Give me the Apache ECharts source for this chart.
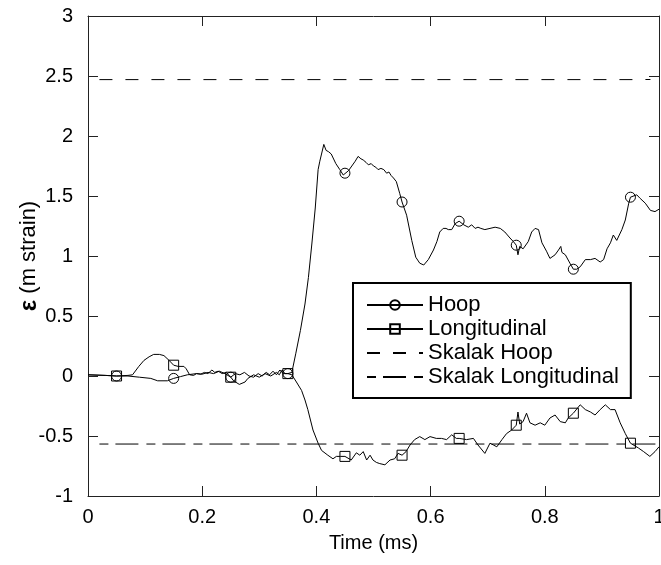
<!DOCTYPE html>
<html>
<head>
<meta charset="utf-8">
<script src="https://cdn.jsdelivr.net/npm/echarts@6/dist/echarts.min.js"></script>
<style>
html,body{margin:0;padding:0;background:#fff;}
#chart{width:661px;height:565px;}
</style>
</head>
<body>
<div id="chart"></div>
<script>
// ---- Data ----
var markerTimes = [0.05, 0.15, 0.25, 0.35, 0.45, 0.55, 0.65, 0.75, 0.85, 0.95];

var hoopTime = [0.00,0.03,0.05,0.07,0.09,0.11,0.122,0.139,0.15,0.162,0.174,0.19,0.20,0.21,0.22,0.23,0.24,0.25,0.255,0.265,0.275,0.28,0.29,0.30,0.31,0.32,0.33,0.335,0.34,0.345,0.35,0.357,0.364,0.372,0.38,0.386,0.392,0.398,0.403,0.406,0.413,0.417,0.421,0.426,0.434,0.441,0.447,0.45,0.456,0.462,0.468,0.473,0.478,0.482,0.487,0.491,0.496,0.50,0.504,0.508,0.513,0.518,0.523,0.527,0.531,0.535,0.540,0.546,0.55,0.558,0.567,0.574,0.581,0.588,0.596,0.605,0.611,0.616,0.622,0.627,0.631,0.637,0.643,0.65,0.658,0.666,0.672,0.678,0.683,0.688,0.695,0.704,0.713,0.722,0.730,0.739,0.745,0.75,0.753,0.756,0.762,0.771,0.777,0.783,0.789,0.795,0.803,0.809,0.818,0.824,0.828,0.830,0.836,0.844,0.85,0.856,0.862,0.871,0.880,0.888,0.897,0.903,0.909,0.915,0.920,0.926,0.935,0.941,0.947,0.95,0.961,0.967,0.976,0.985,0.993,1.0];
var hoopStrain = [0.01,0.005,0.0,0.0,-0.01,-0.02,-0.04,-0.04,-0.02,-0.005,0.01,0.02,0.015,0.03,0.02,0.04,0.02,-0.01,-0.04,-0.07,-0.05,-0.02,0.01,-0.01,0.02,0.0,0.03,0.01,0.05,0.02,0.02,0.03,0.19,0.38,0.6,0.82,1.1,1.4,1.72,1.79,1.93,1.88,1.87,1.85,1.77,1.72,1.675,1.69,1.71,1.75,1.79,1.83,1.81,1.80,1.78,1.76,1.77,1.75,1.74,1.72,1.73,1.72,1.69,1.70,1.67,1.65,1.62,1.52,1.45,1.34,1.13,0.99,0.94,0.925,0.97,1.05,1.12,1.20,1.23,1.23,1.22,1.22,1.27,1.29,1.26,1.24,1.26,1.23,1.24,1.23,1.22,1.23,1.24,1.23,1.20,1.15,1.12,1.09,1.01,1.08,1.06,1.12,1.20,1.23,1.22,1.11,1.04,0.98,1.01,1.05,1.08,1.03,1.01,0.94,0.89,0.89,0.91,0.97,0.97,0.98,0.95,0.97,1.06,1.11,1.175,1.13,1.22,1.30,1.44,1.49,1.51,1.48,1.44,1.38,1.37,1.39];

var longTime = [0.00,0.03,0.05,0.07,0.078,0.089,0.098,0.107,0.115,0.125,0.133,0.142,0.15,0.158,0.168,0.172,0.178,0.185,0.19,0.197,0.204,0.21,0.217,0.222,0.228,0.235,0.242,0.25,0.258,0.266,0.274,0.282,0.29,0.298,0.305,0.312,0.318,0.324,0.33,0.336,0.342,0.35,0.357,0.365,0.374,0.38,0.385,0.394,0.403,0.409,0.42,0.429,0.435,0.442,0.45,0.461,0.470,0.476,0.482,0.488,0.494,0.499,0.505,0.511,0.52,0.529,0.537,0.543,0.55,0.557,0.564,0.572,0.581,0.59,0.599,0.61,0.619,0.628,0.637,0.645,0.65,0.663,0.675,0.683,0.686,0.695,0.704,0.71,0.716,0.725,0.733,0.742,0.75,0.753,0.756,0.762,0.768,0.774,0.783,0.792,0.8,0.809,0.818,0.827,0.836,0.841,0.85,0.862,0.871,0.88,0.888,0.897,0.906,0.915,0.923,0.932,0.941,0.95,0.964,0.973,0.984,0.993,1.0];
var longStrain = [0.01,0.005,0.0,0.005,0.01,0.08,0.13,0.16,0.18,0.18,0.17,0.13,0.09,0.08,0.08,0.06,0.01,0.005,0.02,0.015,0.03,0.02,0.05,0.03,0.04,0.02,0.03,-0.01,0.02,0.01,0.03,0.0,-0.01,0.02,0.0,0.03,0.01,0.04,0.01,0.05,0.02,0.02,0.01,-0.05,-0.12,-0.2,-0.28,-0.45,-0.56,-0.62,-0.66,-0.69,-0.67,-0.67,-0.67,-0.70,-0.64,-0.66,-0.63,-0.70,-0.66,-0.70,-0.72,-0.73,-0.74,-0.70,-0.69,-0.645,-0.66,-0.63,-0.575,-0.53,-0.505,-0.53,-0.505,-0.52,-0.52,-0.53,-0.49,-0.52,-0.52,-0.53,-0.52,-0.575,-0.59,-0.645,-0.56,-0.575,-0.59,-0.53,-0.48,-0.45,-0.41,-0.30,-0.40,-0.38,-0.31,-0.39,-0.41,-0.39,-0.41,-0.35,-0.325,-0.38,-0.39,-0.35,-0.31,-0.24,-0.28,-0.30,-0.325,-0.28,-0.24,-0.28,-0.28,-0.39,-0.48,-0.56,-0.60,-0.63,-0.67,-0.63,-0.59];

var skalakHoopTime = [0.02, 0.985];
var skalakHoopStrain = [2.47, 2.47];
var skalakLongTime = [0.02, 1.0];
var skalakLongStrain = [-0.567, -0.567];

var xTickInterval = 0.2;
var yTickInterval = 0.5;

// ---- Build series data ----
function isMarker(t){
  for (var i=0;i<markerTimes.length;i++){ if (Math.abs(markerTimes[i]-t)<1e-9) return true; }
  return false;
}
function buildData(ts, vs){
  return ts.map(function(t,i){
    var item = {value:[t, vs[i]]};
    if (!isMarker(t)) item.symbol = 'none';
    return item;
  });
}
function pairs(ts, vs){ return ts.map(function(t,i){ return [t, vs[i]]; }); }

var FONT = 'Liberation Sans, Arial, sans-serif';
var axisColor = '#222';

var chart = echarts.init(document.getElementById('chart'), null, {renderer:'canvas'});
chart.setOption({
  animation: false,
  backgroundColor: '#fff',
  grid: {left: 88, right: 2, top: 16, bottom: 69, containLabel: false, outerBoundsMode: 'none'},
  xAxis: [{
    type: 'value', min: 0, max: 1, interval: xTickInterval, position: 'bottom',
    name: 'Time (ms)', nameLocation: 'middle', nameGap: 37, nameMoveOverlap: false,
    nameTextStyle: {fontFamily: FONT, fontSize: 20, color: '#000'},
    axisLine: {show: true, onZero: false, lineStyle: {color: axisColor, width: 1}},
    axisTick: {show: true, inside: true, length: 10, lineStyle: {color: axisColor}},
    axisLabel: {fontFamily: FONT, fontSize: 20, color: '#000', margin: 11, hideOverlap: false},
    splitLine: {show: false}
  }, {
    type: 'value', min: 0, max: 1, interval: xTickInterval, position: 'top',
    axisLine: {show: true, onZero: false, lineStyle: {color: axisColor, width: 1}},
    axisTick: {show: true, inside: true, length: 10, lineStyle: {color: axisColor}},
    axisLabel: {show: false}, splitLine: {show: false}
  }],
  yAxis: [{
    type: 'value', min: -1, max: 3, interval: yTickInterval, position: 'left',
    name: '{e|ε} (m strain)', nameLocation: 'middle', nameGap: 47, nameRotate: 90,
    nameMoveOverlap: false,
    nameTextStyle: {fontFamily: FONT, fontSize: 22, color: '#000',
      rich: {e: {fontFamily: FONT, fontSize: 24, fontWeight: 'bold', color: '#000'}}},
    axisLine: {show: true, onZero: false, lineStyle: {color: axisColor, width: 1}},
    axisTick: {show: true, inside: true, length: 10, lineStyle: {color: axisColor}},
    axisLabel: {fontFamily: FONT, fontSize: 20, color: '#000', margin: 15},
    splitLine: {show: false}
  }, {
    type: 'value', min: -1, max: 3, interval: yTickInterval, position: 'right',
    axisLine: {show: true, onZero: false, lineStyle: {color: axisColor, width: 1}},
    axisTick: {show: true, inside: true, length: 10, lineStyle: {color: axisColor}},
    axisLabel: {show: false}, splitLine: {show: false}
  }],
  legend: {
    show: true, orient: 'vertical', left: 353, top: 283,
    padding: [10, 12, 9, 13],
    borderColor: '#000', borderWidth: 2, backgroundColor: '#fff',
    itemWidth: 56, itemHeight: 12, itemGap: 0,
    textStyle: {fontFamily: FONT, fontSize: 22, color: '#000', lineHeight: 24},
    data: [
      {name: 'Hoop'},
      {name: 'Longitudinal'},
      {name: 'Skalak Hoop', itemStyle: {opacity: 0}},
      {name: 'Skalak Longitudinal', itemStyle: {opacity: 0}}
    ]
  },
  series: [{
    name: 'Hoop', type: 'line', data: buildData(hoopTime, hoopStrain),
    symbol: 'circle', symbolSize: 10, showAllSymbol: true,
    lineStyle: {color: '#000', width: 1},
    itemStyle: {color: 'rgba(0,0,0,0)', borderColor: '#000', borderWidth: 1},
    emphasis: {disabled: true}, z: 3
  }, {
    name: 'Longitudinal', type: 'line', data: buildData(longTime, longStrain),
    symbol: 'rect', symbolSize: 10, showAllSymbol: true,
    lineStyle: {color: '#000', width: 1},
    itemStyle: {color: 'rgba(0,0,0,0)', borderColor: '#000', borderWidth: 1},
    emphasis: {disabled: true}, z: 3
  }, {
    name: 'Skalak Hoop', type: 'line', data: pairs(skalakHoopTime, skalakHoopStrain),
    symbol: 'none', lineStyle: {color: '#000', width: 1, type: [13, 13]},
    itemStyle: {color: '#000'}, emphasis: {disabled: true}, z: 2
  }, {
    name: 'Skalak Longitudinal', type: 'line', data: pairs(skalakLongTime, skalakLongStrain),
    symbol: 'none', lineStyle: {color: '#000', width: 1, type: [9, 7, 23, 8]},
    itemStyle: {color: '#000'}, emphasis: {disabled: true}, z: 2
  }]
});
</script>
</body>
</html>
